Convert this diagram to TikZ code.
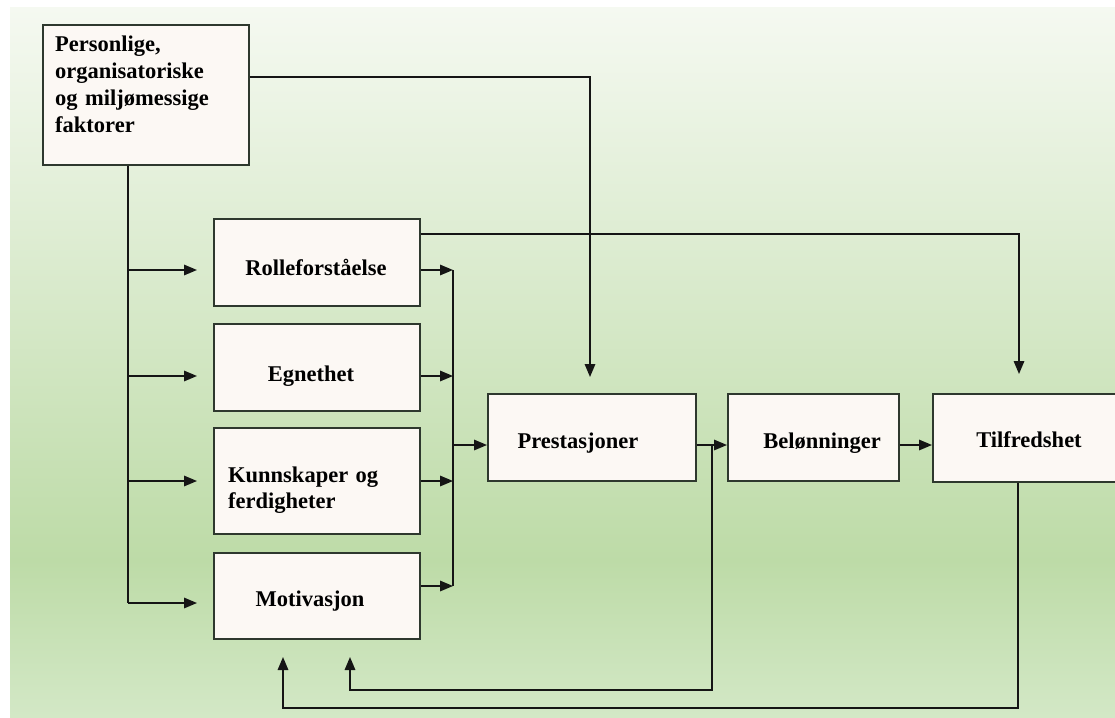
\documentclass[tikz,border=0pt]{standalone}
\usepackage{fontspec}
\setmainfont{Liberation Serif}
\usetikzlibrary{arrows.meta}

\definecolor{bgTop}{HTML}{F5F9F1}
\definecolor{bgMid}{HTML}{BDDBA7}
\definecolor{bgBot}{HTML}{D3E8C6}
\definecolor{boxfill}{HTML}{FCF8F4}
\definecolor{boxline}{HTML}{2E382E}
\definecolor{lineclr}{HTML}{151515}

\tikzset{
  box/.style={draw=boxline, line width=1.7pt, fill=boxfill, inner sep=0pt, anchor=north west},
  lbl/.style={inner sep=0pt, font=\bfseries\fontsize{22.5}{27}\selectfont},
  ln/.style={draw=lineclr, line width=1.6pt},
  arr/.style={ln, -{Triangle[length=13pt,width=10.5pt]}}
}

\begin{document}
\begin{tikzpicture}[x=1pt,y=-1pt]
\useasboundingbox (0,0) rectangle (1115,717);
\clip (0,0) rectangle (1115,717);
% page background with soft green fade
\fill[white] (0,0) rectangle (1115,717);
\shade[top color=bgTop, bottom color=bgMid] (10,8) rectangle (1115,561);
\shade[top color=bgMid, bottom color=bgBot] (10,560) rectangle (1115,717);

% boxes
\node[box, minimum width=206pt, minimum height=140pt] (F) at (42,24) {};
\node[box, minimum width=206pt, minimum height=87pt]  (R) at (213,218) {};
\node[box, minimum width=206pt, minimum height=87pt]  (E) at (213,323) {};
\node[box, minimum width=206pt, minimum height=106pt] (K) at (213,427) {};
\node[box, minimum width=206pt, minimum height=86pt]  (M) at (213,552) {};
\node[box, minimum width=208pt, minimum height=87pt]  (P) at (487,393) {};
\node[box, minimum width=171pt, minimum height=87pt]  (B) at (727,393) {};
\node[box, minimum width=200pt, minimum height=88pt]  (T) at (932,393) {};

% labels
\node[lbl, text width=200pt, align=left, anchor=base west] (F-t) at (55,52)
  {Personlige,\\organisatoriske\\og miljømessige\\faktorer};
\node[lbl, anchor=base] (R-t) at (316,275) {Rolleforståelse};
\node[lbl, anchor=base] (E-t) at (311,381) {Egnethet};
\node[lbl, text width=190pt, align=left, anchor=base west,
      font=\bfseries\fontsize{22.5}{26}\selectfont] (K-t) at (228,482)
  {Kunnskaper og\\ferdigheter};
\node[lbl, anchor=base] (M-t) at (310,606) {Motivasjon};
\node[lbl, anchor=base] (P-t) at (578,448) {Prestasjoner};
\node[lbl, anchor=base] (B-t) at (822,448) {Belønninger};
\node[lbl, anchor=base] (T-t) at (1029,447) {Tilfredshet};

% junctions and arrow ends
\coordinate (pTop) at (590,377);
\coordinate (tTop) at (1019,374);
\coordinate (fb)   at (128,603);
\coordinate (inR)  at (197,270);
\coordinate (inE)  at (197,376);
\coordinate (inK)  at (197,481);
\coordinate (inM)  at (197,603);
\coordinate (oR)   at (453,270);
\coordinate (oE)   at (453,376);
\coordinate (oK)   at (453,481);
\coordinate (oM)   at (453,586);
\coordinate (pIn)  at (453,445);
\coordinate (fb1)  at (712,445);
\coordinate (mIn1) at (350,657);
\coordinate (tb)   at (1018,708);
\coordinate (mIn2) at (283,657);

% factors feed performance and the four drivers
\draw[arr] ([yshift=-53pt]F.north east) -| (pTop);
\draw[ln] (F.south -| fb) -- (fb);
\draw[arr] (fb |- inR) -- (inR);
\draw[arr] (fb |- inE) -- (inE);
\draw[arr] (fb |- inK) -- (inK);
\draw[arr] (fb) -- (inM);

% role understanding to satisfaction
\draw[arr] ([yshift=-16pt]R.north east) -| (tTop);

% drivers into the collecting bus
\draw[arr] (R.east |- oR) -- (oR);
\draw[arr] (E.east |- oE) -- (oE);
\draw[arr] (K.east |- oK) -- (oK);
\draw[arr] (M.east |- oM) -- (oM);
\draw[ln] (oR) -- (oM);
\draw[arr] (pIn) -- (P.west |- pIn);

% main chain
\draw[arr] (P.east |- pIn) -- (B.west |- pIn);
\draw[arr] (B.east |- pIn) -- (T.west |- pIn);

% feedback loops
\draw[arr] (fb1) -- (712,690) -| (mIn1);
\draw[arr] (T.south -| tb) -- (tb) -| (mIn2);
\end{tikzpicture}
\end{document}
